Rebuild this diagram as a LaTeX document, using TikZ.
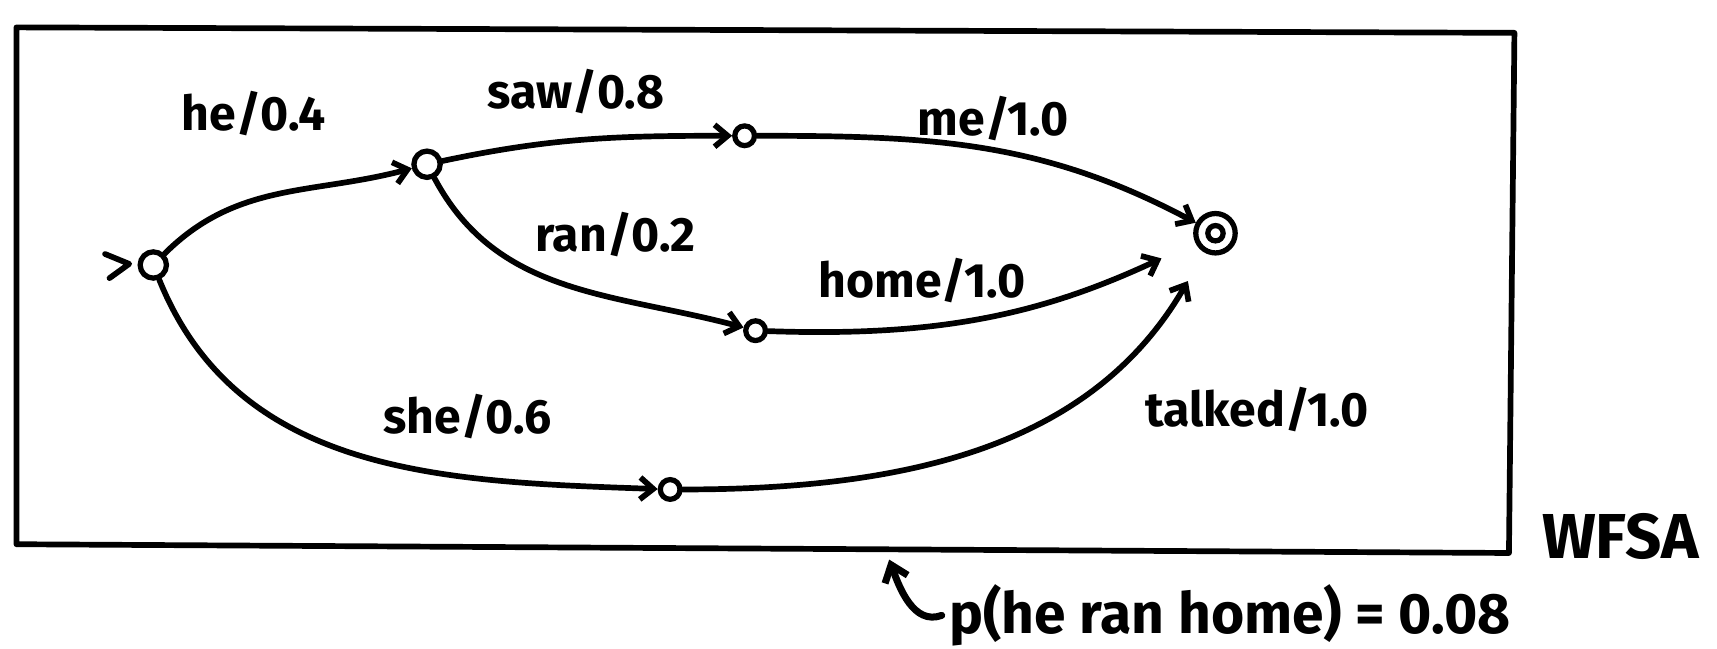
\documentclass[tikz,border=0pt]{standalone}
\usepackage{fontspec}
\setmainfont{Fira Sans}
\usetikzlibrary{arrows.meta}
\begin{document}
\begin{tikzpicture}[x=0.5pt,y=-0.5pt,
  ink/.style={line width=2.6pt, line cap=round, line join=round},
  state/.style={circle, draw, line width=2.4pt, inner sep=0pt, minimum size=#1},
  state/.default=12pt,
  trans/.style={ink, -{Straight Barb[length=6pt,width=10pt,line width=2.6pt]}},
  lab/.style={font=\fontsize{22}{26}\selectfont\bfseries},
]
\useasboundingbox (0,0) rectangle (1568,592);

% frame of the automaton
\draw[ink] (15,25) -- (1383,30) -- (1378,505) -- (15,497) -- cycle;
\node[font=\fontsize{29}{34}\selectfont\bfseries] (name) at (1480,490) {WFSA};

% states
\node[state=12pt] (q0) at (140,242) {};
\node[state=12pt] (q1) at (390,150) {};
\node[state=9pt] (q2) at (680,124) {};
\node[state=9pt] (q3) at (690,302) {};
\node[state=9pt] (q4) at (612,447) {};
\node[state=18pt] (f) at (1110,213) {};
\node[state=7pt] (fin) at (f) {};

% initial marker
\coordinate (i1) at (96,232);
\coordinate (i2) at (118,241);
\coordinate (i3) at (100,254);
\draw[ink] (i1) -- (i2) -- (i3);

% transitions
\draw[trans] (q0) to[out=45,in=195] (q1);
\draw[trans] (q1) to[out=12,in=180] (q2);
\draw[trans] (q1) to[out=-62,in=165] (q3);
\draw[trans] (q2) to[out=0,in=152] (f);
\draw[trans, shorten >=17pt] (q3) to[out=-2,in=205] (f);
\draw[trans] (q0) to[out=-68,in=178] (q4);
\draw[trans, shorten >=15pt] (q4) to[out=0,in=240] (f);

% arc labels
\node[lab] (l1) at (232,104) {he/0.4};
\node[lab] (l2) at (526,84) {saw/0.8};
\node[lab] (l3) at (562,214) {ran/0.2};
\node[lab] (l4) at (907,108) {me/1.0};
\node[lab] (l5) at (842,256) {home/1.0};
\node[lab] (l6) at (427,380) {she/0.6};
\node[lab] (l7) at (1148,374) {talked/1.0};

% path probability note
\node[font=\fontsize{26}{30}\selectfont\bfseries, anchor=west] (p) at (860,562) {p(he ran home) = 0.08};
\coordinate (pt) at (812,511);
\draw[ink, line width=3.2pt, -{Straight Barb[length=7pt,width=11pt,line width=3.2pt]}] (p.west) to[out=200,in=-70] (pt);
\end{tikzpicture}
\end{document}
